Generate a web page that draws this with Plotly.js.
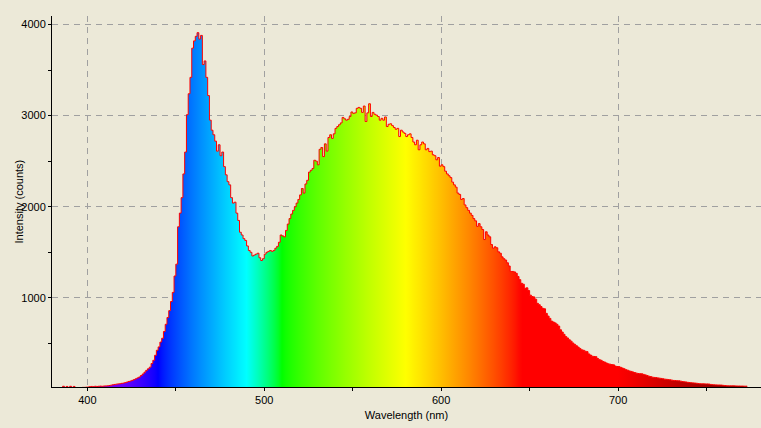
<!DOCTYPE html>
<html>
<head>
<meta charset="utf-8">
<script src="https://cdn.plot.ly/plotly-3.0.1.min.js"></script>
<style>
  html, body { margin: 0; padding: 0; background: #ECE9D8; }
  #chart { width: 761px; height: 428px; }
</style>
</head>
<body>
<div id="chart"></div>
<script>
// ---- Data ----
const WL_START = 384;   // nm, first sample
const WL_STEP = 1;      // nm between samples
const intensity = [
  10,12,30,12,28,12,
  30,14,28,15,15,16,16,18,18,20,
  22,26,28,26,30,28,30,32,30,33,
  34,35,38,42,46,50,53,56,58,62,
  65,70,76,83,88,95,103,112,122,132,
  148,165,185,205,222,240,280,315,370,425,
  462,515,557,631,710,785,860,960,1060,1240,
  1370,1780,1930,2100,2360,2600,3010,3240,3420,3740,
  3820,3870,3910,3840,3880,3560,3600,3420,3220,2950,
  2840,2790,2720,2610,2680,2560,2600,2440,2350,2275,
  2240,2100,2040,2050,1930,1850,1720,1690,1650,1630,
  1570,1520,1500,1460,1470,1480,1490,1440,1410,1430,
  1480,1500,1510,1520,1510,1520,1545,1565,1610,1690,
  1680,1670,1740,1810,1870,1920,1960,2000,2040,2080,
  2130,2200,2150,2250,2290,2380,2400,2420,2510,2500,
  2460,2630,2650,2550,2690,2610,2760,2790,2750,2800,
  2860,2880,2900,2920,2980,2965,2950,2960,2990,3040,
  3025,3030,3080,3090,3080,3035,3105,2935,3030,3130,
  2990,3035,3015,3005,2990,2950,2970,2950,2985,2880,
  2905,2910,2890,2870,2850,2860,2770,2840,2820,2805,
  2770,2790,2800,2760,2710,2680,2730,2625,2680,2710,
  2690,2625,2640,2605,2610,2570,2560,2515,2540,2445,
  2460,2440,2390,2360,2340,2320,2270,2240,2215,2150,
  2135,2080,2090,2020,1990,1960,1930,1905,1870,1845,
  1785,1815,1780,1750,1640,1725,1690,1670,1585,1545,
  1560,1550,1505,1490,1450,1430,1415,1385,1350,1290,
  1290,1285,1270,1235,1200,1160,1150,1105,1110,1080,
  1030,1015,1010,985,940,925,905,885,880,830,
  800,775,745,735,725,710,690,650,625,600,
  575,560,540,525,505,490,475,460,445,430,
  425,415,410,385,372,360,357,355,335,322,
  315,302,295,285,276,272,268,265,252,247,
  246,238,230,222,212,206,198,193,186,180,
  174,170,168,167,160,155,148,140,136,130,
  127,125,122,119,116,112,108,106,103,101,
  97,94,93,91,90,86,82,79,77,73,
  71,69,67,65,63,60,58,57,57,56,
  56,54,50,48,46,45,44,44,43,40,
  38,36,35,35,35,35,34,33,33,32,
  32,31,31,30
];
const wavelength = intensity.map((_, i) => WL_START + i * WL_STEP);

const xTitle = "Wavelength (nm)";
const yTitle = "Intensity (counts)";
const xRange = [380, 780.8];
const yRange = [22, 4093];

// ---- Spectral colour of a wavelength (styling only) ----
function specColor(l) {
  let r = 0, g = 0, b = 0;
  if (l < 440) { r = -(l - 440) / 60; b = 1; }
  else if (l < 490) { g = (l - 440) / 50; b = 1; }
  else if (l < 510) { g = 1; b = -(l - 510) / 20; }
  else if (l < 580) { r = (l - 510) / 70; g = 1; }
  else if (l < 645) { r = 1; g = -(l - 645) / 65; }
  else { r = 1; }
  let f = 1;
  if (l < 420) f = 0.3 + 0.7 * (l - 380) / 40;
  else if (l > 700) f = 0.3 + 0.7 * (780 - l) / 80;
  const c = v => Math.round(255 * Math.pow(Math.max(0, Math.min(1, v * f)), 0.8));
  return 'rgb(' + c(r) + ',' + c(g) + ',' + c(b) + ')';
}
const l0 = wavelength[0], l1 = wavelength[wavelength.length - 1];
const colorscale = [];
for (let l = l0; l <= l1; l += 2) {
  colorscale.push([(l - l0) / (l1 - l0), specColor(l)]);
}
if (colorscale[colorscale.length - 1][0] < 1) colorscale.push([1, specColor(l1)]);

const font = { family: 'Liberation Sans, Arial, sans-serif', size: 11, color: '#000' };

const trace = {
  type: 'scatter',
  mode: 'lines',
  x: wavelength,
  y: intensity,
  line: { color: '#FF0000', width: 1, shape: 'hv' },
  fill: 'tozeroy',
  fillgradient: { type: 'horizontal', colorscale: colorscale, start: l0, stop: l1 },
  hoverinfo: 'skip'
};

const gridStyle = { showgrid: true, gridcolor: '#A0A0A0', gridwidth: 1, griddash: '6px,5px' };

const layout = {
  width: 761, height: 428,
  margin: { l: 52, r: 0, t: 16, b: 41, pad: 0 },
  paper_bgcolor: '#ECE9D8',
  plot_bgcolor: '#ECE9D8',
  font: font,
  showlegend: false,
  hovermode: false,
  xaxis: Object.assign({
    range: xRange, autorange: false,
    tickmode: 'linear', tick0: 0, dtick: 100,
    ticks: 'outside', ticklen: 3, tickcolor: '#000', tickwidth: 1,
    minor: { dtick: 50, tick0: 0, ticks: 'outside', ticklen: 3, tickcolor: '#000', tickwidth: 1, showgrid: false },
    showline: true, linecolor: '#000', linewidth: 1,
    zeroline: false, automargin: false,
    tickfont: font,
    title: { text: xTitle, font: font, standoff: 6 }
  }, gridStyle),
  yaxis: Object.assign({
    range: yRange, autorange: false,
    tickmode: 'linear', tick0: 0, dtick: 1000,
    ticks: 'outside', ticklen: 3, tickcolor: '#000', tickwidth: 1,
    minor: { dtick: 500, tick0: 0, ticks: 'outside', ticklen: 3, tickcolor: '#000', tickwidth: 1, showgrid: false },
    showline: true, linecolor: '#000', linewidth: 1,
    zeroline: false, automargin: false,
    tickfont: font
  }, gridStyle),
  xaxis2: {
    overlaying: 'x', anchor: 'y', side: 'bottom',
    range: xRange, autorange: false,
    tickmode: 'linear', tick0: 0, dtick: 100,
    ticks: 'inside', ticklen: 2, tickcolor: '#000', tickwidth: 1,
    minor: { dtick: 50, tick0: 0, ticks: 'inside', ticklen: 2, tickcolor: '#000', tickwidth: 1, showgrid: false },
    showticklabels: false, showgrid: false, showline: false, zeroline: false
  },
  yaxis2: {
    overlaying: 'y', anchor: 'x', side: 'left',
    range: yRange, autorange: false,
    tickmode: 'linear', tick0: 0, dtick: 1000,
    ticks: 'inside', ticklen: 2, tickcolor: '#000', tickwidth: 1,
    minor: { dtick: 500, tick0: 0, ticks: 'inside', ticklen: 2, tickcolor: '#000', tickwidth: 1, showgrid: false },
    showticklabels: false, showgrid: false, showline: false, zeroline: false
  },
  annotations: [{
    text: yTitle, font: font, textangle: -90,
    xref: 'paper', yref: 'paper', x: 0, y: 0.5,
    xanchor: 'center', yanchor: 'middle', xshift: -34,
    showarrow: false
  }]
};

Plotly.newPlot('chart', [trace], layout, { staticPlot: true, displayModeBar: false });
</script>
</body>
</html>
